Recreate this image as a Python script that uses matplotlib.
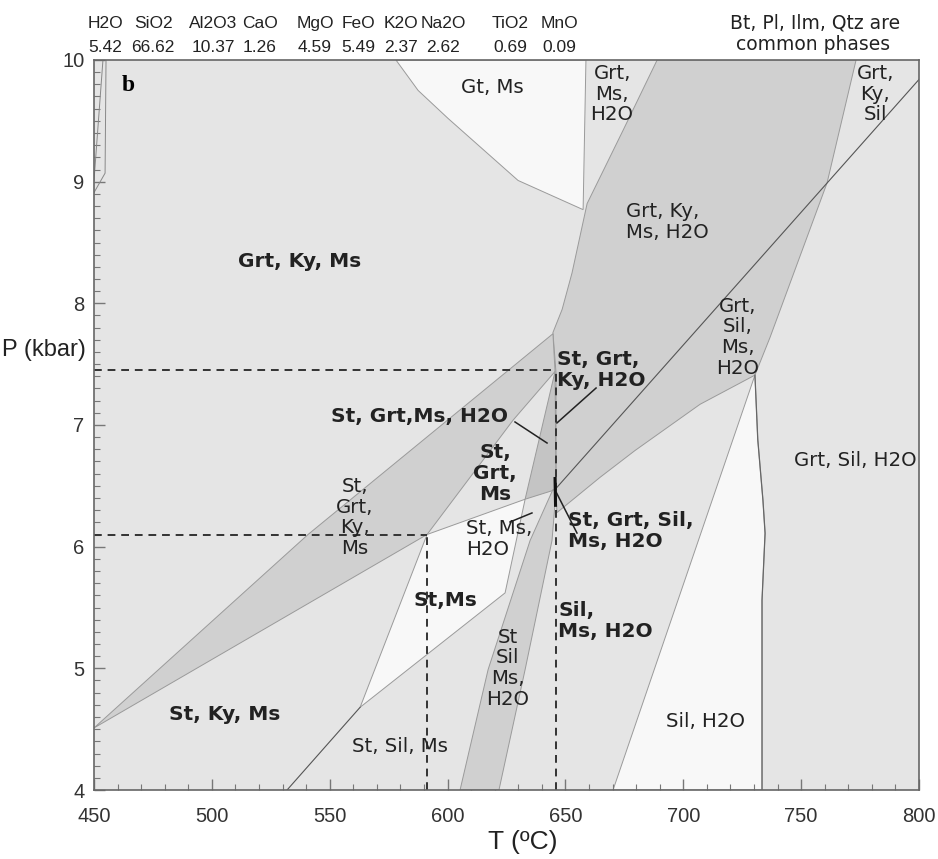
import matplotlib.pyplot as plt
from matplotlib.patches import Polygon
from matplotlib.ticker import MultipleLocator

# bulk composition (wt%)
oxides = ['H2O', 'SiO2', 'Al2O3', 'CaO', 'MgO', 'FeO', 'K2O', 'Na2O', 'TiO2', 'MnO']
wt_pct = ['5.42', '66.62', '10.37', '1.26', '4.59', '5.49', '2.37', '2.62', '0.69', '0.09']

# phase field outlines, T (C) and P (kbar)
gtms_T = [578.1, 587.5, 600.2, 629.9, 657.5, 658.7]
gtms_P = [10.0, 9.75, 9.52, 9.01, 8.77, 10.0]

band_T = [688.9, 773.3, 761.0, 736.8, 730.4, 707.1, 679.5, 664.7, 646.4, 646.0, 646.0, 644.7, 648.6, 652.8, 659.2, 674.4]
band_P = [10.0, 10.0, 8.99, 7.72, 7.41, 7.17, 6.79, 6.57, 6.28, 6.45, 7.43, 7.76, 7.95, 8.25, 8.82, 9.42]

stky_T = [450.0, 540.8, 644.7, 645.6, 627.8, 591.3]
stky_P = [4.51, 6.10, 7.75, 7.44, 7.04, 6.10]

stms_T = [591.3, 632.9, 624.4, 562.9]
stms_P = [6.10, 6.39, 5.62, 4.68]

strip_T = [645.6, 646.0, 632.9]
strip_P = [7.44, 6.47, 6.39]

stsil_T = [605.3, 621.8, 632.9, 644.3, 646.0, 644.7, 635.0, 617.2]
stsil_P = [4.0, 4.0, 4.99, 6.05, 6.45, 6.47, 6.05, 4.99]

silh2o_T = [730.4, 731.6, 733.8, 734.7, 733.4, 733.4, 670.2]
silh2o_P = [7.41, 6.88, 6.38, 6.11, 5.56, 4.0, 4.0]

# reactions drawn as plain lines
kysil_T = [800.0, 645.6]
kysil_P = [9.84, 6.47]
stsilms_T = [531.9, 562.9]
stsilms_P = [4.0, 4.68]
edgeA_T = [455.1, 454.7, 450.0]
edgeA_P = [10.0, 9.07, 8.91]
edgeB_T = [453.8, 450.0]
edgeB_P = [10.0, 9.01]

# estimated peak conditions
peak_T = [591.3, 646.0]
peak_P = [6.10, 7.45]

# field names: text, T, P, weight, alignment
labels = [
    ("Gt, Ms", 618.9, 9.77, 'normal', 'center'),
    ("Grt,\nMs,\nH2O", 669.8, 9.72, 'normal', 'center'),
    ("Grt,\nKy,\nSil", 781.4, 9.72, 'normal', 'center'),
    ("Grt, Ky,\nMs, H2O", 675.7, 8.67, 'normal', 'left'),
    ("Grt, Ky, Ms", 537.4, 8.34, 'bold', 'center'),
    ("Grt,\nSil,\nMs,\nH2O", 723.2, 7.72, 'normal', 'center'),
    ("St, Grt,\nKy, H2O", 646.4, 7.45, 'bold', 'left'),
    ("St, Grt,Ms, H2O", 588.3, 7.07, 'bold', 'center'),
    ("St,\nGrt,\nMs", 620.1, 6.60, 'bold', 'center'),
    ("St,\nGrt,\nKy,\nMs", 560.7, 6.24, 'normal', 'center'),
    ("St, Ms,\nH2O", 607.8, 6.06, 'normal', 'left'),
    ("St, Grt, Sil,\nMs, H2O", 651.1, 6.13, 'bold', 'left'),
    ("St,Ms", 598.9, 5.56, 'bold', 'center'),
    ("Sil,\nMs, H2O", 646.9, 5.39, 'bold', 'left'),
    ("St\nSil\nMs,\nH2O", 625.6, 5.00, 'normal', 'center'),
    ("St, Ky, Ms", 505.6, 4.62, 'bold', 'center'),
    ("St, Sil, Ms", 579.8, 4.36, 'normal', 'center'),
    ("Sil, H2O", 709.3, 4.56, 'normal', 'center'),
    ("Grt, Sil, H2O", 772.9, 6.71, 'normal', 'center'),
]

# leader lines from labels to narrow fields
ptr_T = [[628.6, 642.2], [663.0, 646.4], [645.6, 654.9], [626.5, 635.8]]
ptr_P = [[7.025, 6.852], [7.304, 7.017], [6.466, 6.112], [6.203, 6.277]]

plt.rcParams['font.family'] = 'DejaVu Sans'
sans = 'Liberation Sans'

fig = plt.figure(figsize=(9.38, 8.59), dpi=100)
ax = fig.add_axes([94/938, 1-790/859, 825/938, 730/859])
ax.set_xlim(450, 800)
ax.set_ylim(4, 10)
ax.set_facecolor('#e5e5e5')

def field(T, P, color, z=1):
    ax.add_patch(Polygon(list(zip(T, P)), closed=True, facecolor=color,
                         edgecolor='#9a9a9a', lw=0.7, zorder=z))

field(gtms_T, gtms_P, '#f8f8f8')
field(band_T, band_P, '#d0d0d0')
field(stky_T, stky_P, '#d0d0d0')
field(stms_T, stms_P, '#f8f8f8')
field(strip_T, strip_P, '#c4c4c4', z=2)
field(stsil_T, stsil_P, '#d0d0d0', z=2)
field(silh2o_T, silh2o_P, '#f8f8f8')

ax.plot(kysil_T, kysil_P, color='#555555', lw=0.8, zorder=3)
ax.plot(stsilms_T, stsilms_P, color='#555555', lw=0.8, zorder=3)
ax.plot(silh2o_T[0:6], silh2o_P[0:6], color='#666666', lw=0.9, zorder=3)
ax.plot(edgeA_T, edgeA_P, color='#888888', lw=0.7, zorder=3)
ax.plot(edgeB_T, edgeB_P, color='#888888', lw=0.7, zorder=3)

# dashed lines to the axes
for t, p in zip(peak_T, peak_P):
    ax.plot([450, t], [p, p], ls=(0, (4, 3)), color='#333333', lw=1.4, zorder=4)
    ax.plot([t, t], [4, p], ls=(0, (4, 3)), color='#333333', lw=1.4, zorder=4)

for t, p in zip(ptr_T, ptr_P):
    ax.plot(t, p, color='#222222', lw=1.1, zorder=5)
ax.plot([645.6, 645.8], [6.56, 6.34], color='#111111', lw=2.2, zorder=5)

for txt, t, p, w, ha in labels:
    ax.text(t, p, txt, fontsize=14.5 if w == 'bold' else 14.2, fontweight=w, ha=ha,
            va='center', color='#222222', linespacing=1.12, zorder=6)

ax.text(464.4, 9.79, 'b', fontsize=17, fontweight='bold', family='Liberation Serif',
        ha='center', va='center', zorder=6)

ax.xaxis.set_major_locator(MultipleLocator(50))
ax.xaxis.set_minor_locator(MultipleLocator(10))
ax.yaxis.set_major_locator(MultipleLocator(1))
ax.yaxis.set_minor_locator(MultipleLocator(0.1))
ax.tick_params(which='both', direction='in', color='#777777')
ax.tick_params(which='major', length=8, width=1)
ax.tick_params(which='minor', length=4, width=0.8)
ax.tick_params(axis='x', pad=12)
ax.tick_params(axis='y', pad=7)
for lab in ax.get_xticklabels() + ax.get_yticklabels():
    lab.set_family(sans)
    lab.set_fontsize(14.5)
    lab.set_color('#333333')
for s in ax.spines.values():
    s.set_color('#666666')
    s.set_linewidth(1.2)
    s.set_zorder(7)

fig.text(0.002, 1-350/859, 'P (kbar)', family=sans, fontsize=17,
         ha='left', va='center', color='#222222')
fig.text(523/938, 1-842/859, 'T (ºC)', family=sans, fontsize=19,
         ha='center', va='center', color='#222222')

# composition header
hdr_x = [105, 153, 213, 260, 315, 358, 401, 443, 510, 559]
for name, val, x in zip(oxides, wt_pct, hdr_x):
    fig.text(x/938, 1-28/859, name, family=sans, fontsize=12.5,
             ha='center', va='baseline', color='#222222')
    fig.text(x/938, 1-52/859, val, family=sans, fontsize=12.5,
             ha='center', va='baseline', color='#222222')

fig.text(730/938, 1-33.5/859, 'Bt, Pl, Ilm, Qtz are\n common phases', fontsize=13.5,
         ha='left', va='center', linespacing=1.15, color='#222222')

fig.savefig('out.png', dpi=100)
